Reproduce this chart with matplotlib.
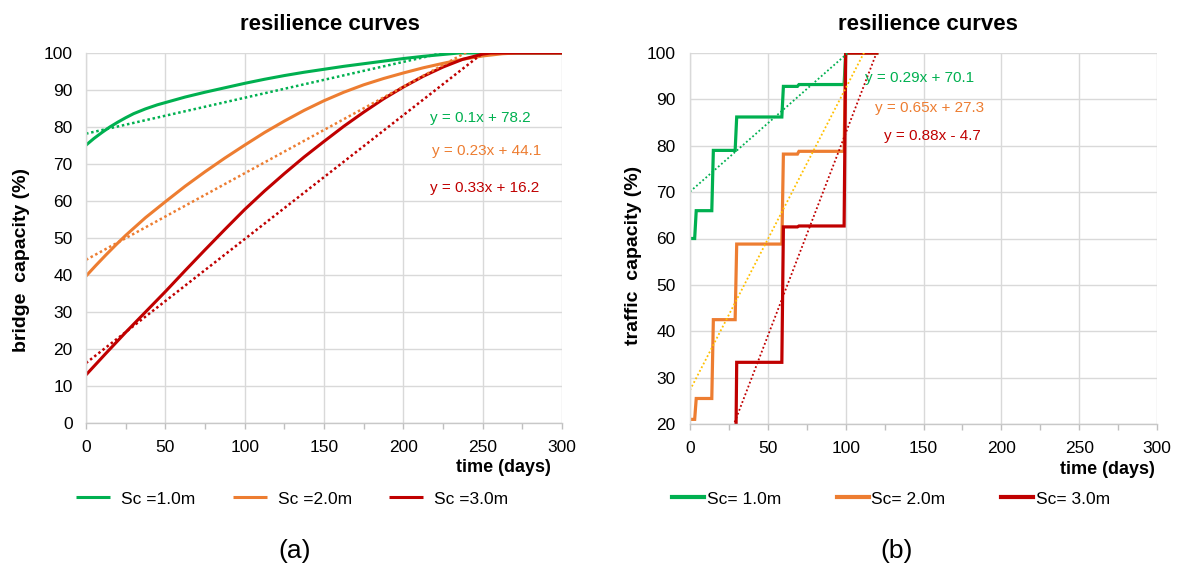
import matplotlib
matplotlib.use("Agg")
import matplotlib.pyplot as plt
import numpy as np

plt.rcParams['font.family'] = ['Liberation Sans', 'DejaVu Sans']

# ---------------- data: panel (a) bridge capacity ----------------
a_green_x = [0, 5, 10, 15, 20, 25, 30, 37.5, 45, 50, 62.5, 75, 87.5, 100, 112.5, 125, 137.5, 150,
             162.5, 175, 187.5, 200, 212.5, 225, 235, 300]
a_green_y = [75.1, 76.9, 78.5, 80.0, 81.3, 82.5, 83.6, 84.9, 86.0, 86.6, 88.1, 89.4, 90.6, 91.8, 92.9,
             93.9, 94.8, 95.6, 96.4, 97.1, 97.8, 98.5, 99.1, 99.6, 100, 100]
a_orange_x = [0, 6.25, 12.5, 18.75, 25, 37.5, 50, 62.5, 75, 87.5, 100, 112.5, 125, 137.5, 150, 162.5,
              175, 187.5, 200, 212.5, 225, 237.5, 250, 262.5, 272, 300]
a_orange_y = [39.7, 42.6, 45.4, 48.1, 50.7, 55.5, 59.8, 64.0, 67.9, 71.6, 75.1, 78.5, 81.6, 84.5, 87.1,
              89.4, 91.4, 93.1, 94.6, 96.0, 97.2, 98.3, 99.2, 99.8, 100, 100]
a_red_x = [0, 12.5, 25, 37.5, 50, 62.5, 75, 87.5, 100, 112.5, 125, 137.5, 150, 162.5, 175, 187.5,
           200, 212.5, 225, 237.5, 250, 255, 300]
a_red_y = [13.0, 18.8, 24.5, 30.0, 35.5, 41.2, 46.8, 52.3, 57.7, 62.7, 67.4, 71.9, 76.1, 80.2, 84.0,
           87.6, 90.8, 93.7, 96.2, 98.3, 99.7, 100, 100]

a_trend_slope = [0.097, 0.234, 0.335]
a_trend_icpt = [78.2, 44.1, 16.2]
a_trend_text = ["y = 0.1x + 78.2", "y = 0.23x + 44.1", "y = 0.33x + 16.2"]

# ---------------- data: panel (b) traffic capacity ----------------
b_green_x = [0, 3, 4, 14, 15, 29, 30, 59, 60, 69, 70, 99, 100, 120]
b_green_y = [60, 60, 66, 66, 79, 79, 86.2, 86.2, 92.8, 92.8, 93.2, 93.2, 100, 100]
b_orange_x = [0, 3, 4, 14, 15, 29, 30, 59, 60, 69, 70, 99, 100, 120]
b_orange_y = [21, 21, 25.5, 25.5, 42.5, 42.5, 58.8, 58.8, 78.2, 78.2, 78.8, 78.8, 100, 100]
b_red_x = [0, 29, 30, 59, 60, 69, 70, 99, 100, 120]
b_red_y = [0, 0, 33.3, 33.3, 62.5, 62.5, 62.7, 62.7, 100, 100]

b_trend_slope = [0.295, 0.651, 0.874]
b_trend_icpt = [70.1, 27.3, -4.7]
b_trend_text = ["y = 0.29x + 70.1", "y = 0.65x + 27.3", "y = 0.88x - 4.7"]

labels_a = ["Sc =1.0m", "Sc =2.0m", "Sc =3.0m"]
labels_b = ["Sc= 1.0m", "Sc= 2.0m", "Sc= 3.0m"]

GREEN = "#00B050"
ORANGE = "#ED7D31"
RED = "#C00000"
GOLD = "#FFC000"
GRID = "#D9D9D9"

W, H = 1179, 570
fig = plt.figure(figsize=(W / 100, H / 100), dpi=100)


def px_axes(l, t, r, b):
    return fig.add_axes([l / W, 1 - b / H, (r - l) / W, (b - t) / H])


def style_axes(ax, ymin, ypad):
    ax.set_xlim(0, 300)
    ax.set_ylim(ymin, 100)
    ax.set_xticks(np.arange(0, 301, 50))
    ax.set_xticks(np.arange(0, 301, 25), minor=True)
    ax.grid(True, which='major', color=GRID, linewidth=1.0)
    ax.set_axisbelow(True)
    for s in ['top', 'right']:
        ax.spines[s].set_visible(False)
    ax.spines['left'].set_color(GRID)
    ax.spines['bottom'].set_color("#C8C8C8")
    ax.spines['left'].set_linewidth(1.0)
    ax.spines['bottom'].set_linewidth(1.0)
    ax.tick_params(axis='y', length=0, pad=ypad, labelsize=12.5, labelcolor='#000000')
    ax.tick_params(axis='x', which='both', direction='out', length=4, color="#BFBFBF",
                   width=1.0, pad=8, labelsize=12.5)
    ax.tick_params(axis='x', which='minor', labelbottom=False)


# ---------------- panel (a) ----------------
axa = px_axes(86, 53, 562, 423)
style_axes(axa, 0, 9.5)
axa.set_yticks(np.arange(0, 101, 10))
la = []
for xs, ys, c in [(a_green_x, a_green_y, GREEN), (a_orange_x, a_orange_y, ORANGE), (a_red_x, a_red_y, RED)]:
    ln, = axa.plot(xs, ys, color=c, linewidth=2.2, solid_capstyle='butt', solid_joinstyle='round')
    la.append(ln)
xt = np.array([0, 300])
for m, b, c in zip(a_trend_slope, a_trend_icpt, [GREEN, ORANGE, RED]):
    axa.plot(xt, m * xt + b, color=c, linewidth=1.8, linestyle=(0, (1, 1.1)))
for txt, (tx, ty), c in zip(a_trend_text, [(248.5, 82.3), (252.5, 73.6), (251.5, 63.4)], [GREEN, ORANGE, RED]):
    axa.text(tx, ty, txt, color=c, fontsize=11, ha='center', va='center')

# ---------------- panel (b) ----------------
axb = px_axes(690, 53, 1157, 424)
style_axes(axb, 20, 10.5)
axb.set_yticks(np.arange(20, 101, 10))
lb = []
for xs, ys, c in [(b_green_x, b_green_y, GREEN), (b_orange_x, b_orange_y, ORANGE), (b_red_x, b_red_y, RED)]:
    ln, = axb.plot(xs, ys, color=c, linewidth=2.3, solid_joinstyle='miter')
    lb.append(ln)
for m, b, c in zip(b_trend_slope, b_trend_icpt, [GREEN, GOLD, RED]):
    axb.plot(xt, m * xt + b, color=c, linewidth=1.3, linestyle=(0, (1, 1.3)))
for txt, (tx, ty), c in zip(b_trend_text, [(147.5, 94.7), (153.7, 88.2), (156, 82.0)], [GREEN, ORANGE, RED]):
    axb.text(tx, ty, txt, color=c, fontsize=11, ha='center', va='center')

# ---------------- titles, labels ----------------
fig.text(330 / W, 1 - 25 / H, "resilience curves", fontsize=16, fontweight='bold', ha='center', va='center')
fig.text(928 / W, 1 - 25 / H, "resilience curves", fontsize=16, fontweight='bold', ha='center', va='center')

fig.text(22 / W, 1 - 260 / H, "bridge  capacity (%)", fontsize=14, fontweight='bold',
         rotation=90, ha='center', va='center')
fig.text(633 / W, 1 - 255 / H, "traffic  capacity (%)", fontsize=14, fontweight='bold',
         rotation=90, ha='center', va='center')

fig.text(551 / W, 1 - 468 / H, "time (days)", fontsize=13, fontweight='bold', ha='right', va='center')
fig.text(1155 / W, 1 - 469 / H, "time (days)", fontsize=13, fontweight='bold', ha='right', va='center')

fig.text(295 / W, 1 - 551 / H, "(a)", fontsize=19, ha='center', va='center')
fig.text(897 / W, 1 - 551 / H, "(b)", fontsize=19, ha='center', va='center')

# ---------------- legends ----------------
lega = fig.legend(la, labels_a, loc='center left', bbox_to_anchor=(76 / W, 1 - 499 / H),
                  ncol=3, frameon=False, fontsize=12.5, handlelength=1.95, handletextpad=0.65,
                  columnspacing=2.15, borderpad=0, borderaxespad=0)
legb = fig.legend(lb, labels_b, loc='center left', bbox_to_anchor=(672 / W, 1 - 499 / H),
                  ncol=3, frameon=False, fontsize=12.5, handlelength=1.85, handletextpad=0.15,
                  columnspacing=3.2, borderpad=0, borderaxespad=0)
for l in legb.get_lines():
    l.set_linewidth(3.0)

fig.savefig("out.png", dpi=100)
